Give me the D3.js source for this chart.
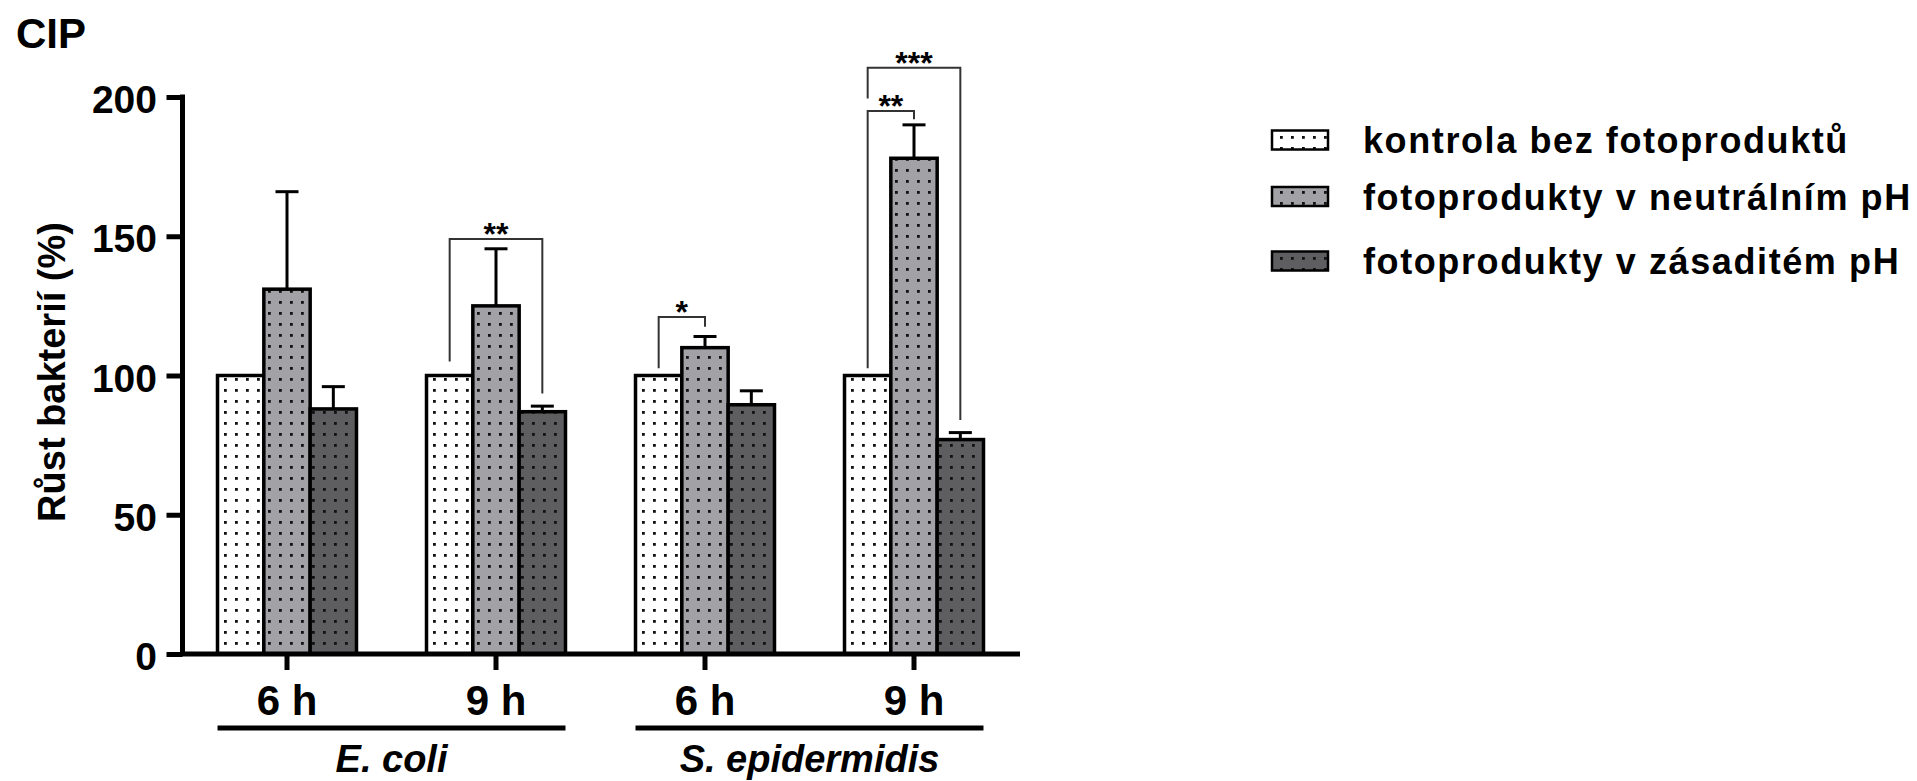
<!DOCTYPE html>
<html>
<head>
<meta charset="utf-8">
<script src="https://cdn.jsdelivr.net/npm/d3@7/dist/d3.min.js"></script>
<style>
  html, body { margin: 0; padding: 0; background: #fff; }
  svg { display: block; }
  text { font-family: "Liberation Sans", Arial, Helvetica, sans-serif; fill: #000; }
</style>
</head>
<body>
<svg id="chart" width="1917" height="781"></svg>
<script>
// ---------------- DATA ----------------
const organisms = ["E. coli", "S. epidermidis"];
const times = ["6 h", "9 h"];
const categories = ["E. coli|6 h", "E. coli|9 h", "S. epidermidis|6 h", "S. epidermidis|9 h"];
const seriesNames = ["kontrola bez fotoproduktů", "fotoprodukty v neutrálním pH", "fotoprodukty v zásaditém pH"];
const controlValues  = [100, 100, 100, 100];
const neutralValues  = [131, 125, 110, 178];
const alkalineValues = [88, 87, 89.5, 77];
const controlErr  = [0, 0, 0, 0];
const neutralErr  = [35, 20.5, 4, 12];
const alkalineErr = [8, 2, 5, 2.5];
const yTicks = [0, 50, 100, 150, 200];
// significance brackets: category, from series, to series, bracket level, leg ends, label
const brackets = [
  { cat: "E. coli|9 h",        from: 0, to: 2, level: 149,   leftEnd: 105,   rightEnd: 93.5, label: "**" },
  { cat: "S. epidermidis|6 h", from: 0, to: 1, level: 121,   leftEnd: 102.6, rightEnd: 117.5, label: "*" },
  { cat: "S. epidermidis|9 h", from: 0, to: 1, level: 195,   leftEnd: 102.6, rightEnd: 192, label: "**" },
  { cat: "S. epidermidis|9 h", from: 0, to: 2, level: 210.5, leftEnd: 199.5, rightEnd: 84, label: "***" }
];

// ---------------- STYLE ----------------
const fills = ["#ffffff", "#a2a2a6", "#5e5e60"];
const font = '"Liberation Sans", Arial, Helvetica, sans-serif';

const svg = d3.select("#chart");
const defs = svg.append("defs");
fills.forEach((c, i) => {
  const p = defs.append("pattern")
    .attr("id", "pat" + i)
    .attr("patternUnits", "userSpaceOnUse")
    .attr("width", 11).attr("height", 11);
  p.append("rect").attr("width", 11).attr("height", 11).attr("fill", c);
  p.append("rect").attr("x", 4).attr("y", 4).attr("width", 2.8).attr("height", 2.8).attr("fill", "#111");
});

const values = [controlValues, neutralValues, alkalineValues];
const errs = [controlErr, neutralErr, alkalineErr];

const y = d3.scaleLinear().domain([0, 200]).range([654, 97]);
const x0 = d3.scaleBand().domain(categories).range([182.5, 1018.5])
  .paddingInner(0.335).paddingOuter(0.1675);
const x1 = d3.scaleBand().domain(d3.range(seriesNames.length)).range([0, x0.bandwidth()]).padding(0);

const g = svg.append("g");

// bars
const barData = [];
categories.forEach((c, ci) => {
  values.forEach((vals, si) => {
    barData.push({ cat: c, s: si, v: vals[ci], e: errs[si][ci] });
  });
});

g.selectAll("rect.bar").data(barData).enter().append("rect")
  .attr("class", "bar")
  .attr("x", d => x0(d.cat) + x1(d.s))
  .attr("width", x1.bandwidth())
  .attr("y", d => y(d.v))
  .attr("height", d => y(0) - y(d.v))
  .attr("fill", d => `url(#pat${d.s})`)
  .attr("stroke", "#000")
  .attr("stroke-width", 3.5);

// error bars (upper only)
const eb = barData.filter(d => d.e > 0);
g.selectAll("line.err").data(eb).enter().append("line")
  .attr("x1", d => x0(d.cat) + x1(d.s) + x1.bandwidth() / 2)
  .attr("x2", d => x0(d.cat) + x1(d.s) + x1.bandwidth() / 2)
  .attr("y1", d => y(d.v))
  .attr("y2", d => y(d.v + d.e))
  .attr("stroke", "#000").attr("stroke-width", 3);
g.selectAll("line.cap").data(eb).enter().append("line")
  .attr("x1", d => x0(d.cat) + x1(d.s) + x1.bandwidth() / 2 - 11.5)
  .attr("x2", d => x0(d.cat) + x1(d.s) + x1.bandwidth() / 2 + 11.5)
  .attr("y1", d => y(d.v + d.e))
  .attr("y2", d => y(d.v + d.e))
  .attr("stroke", "#000").attr("stroke-width", 3);

// significance brackets
const cx = (cat, s) => x0(cat) + x1(s) + x1.bandwidth() / 2;
const bg = g.append("g");
brackets.forEach(b => {
  const xl = cx(b.cat, b.from), xr = cx(b.cat, b.to);
  bg.append("path")
    .attr("d", `M${xl},${y(b.leftEnd)}V${y(b.level)}H${xr}V${y(b.rightEnd)}`)
    .attr("fill", "none").attr("stroke", "#333").attr("stroke-width", 2);
  bg.append("text")
    .attr("x", (xl + xr) / 2)
    .attr("y", y(b.level) + 6)
    .attr("text-anchor", "middle")
    .style("font-size", "32px").style("font-weight", "bold")
    .text(b.label);
});

// y axis
const yAxis = d3.axisLeft(y).tickValues(yTicks).tickSize(16).tickSizeOuter(0).tickPadding(9.5);
const ya = svg.append("g").attr("transform", "translate(182.5,0)").call(yAxis);
ya.select(".domain").remove();
ya.selectAll(".tick line").attr("stroke", "#000").attr("stroke-width", 5);
ya.selectAll(".tick text")
  .attr("dy", "0.4em")
  .style("font-family", font).style("font-size", "39px").style("font-weight", "bold").attr("fill", "#000");
svg.append("line").attr("x1", 182.5).attr("x2", 182.5).attr("y1", y(200) - 2.5).attr("y2", y(0))
  .attr("stroke", "#000").attr("stroke-width", 5);

// x axis
const xAxis = d3.axisBottom(x0).tickSize(16).tickSizeOuter(0).tickPadding(15)
  .tickFormat(d => d.split("|")[1]);
const xa = svg.append("g").attr("transform", `translate(0,${y(0)})`).call(xAxis);
xa.select(".domain").remove();
xa.selectAll(".tick line").attr("stroke", "#000").attr("stroke-width", 5);
xa.selectAll(".tick text")
  .style("font-family", font).style("font-size", "42px").style("font-weight", "bold").attr("fill", "#000");
svg.append("line").attr("x1", 180).attr("x2", 1020).attr("y1", y(0)).attr("y2", y(0))
  .attr("stroke", "#000").attr("stroke-width", 5);

// organism grouping lines and labels
organisms.forEach(org => {
  const cats = categories.filter(c => c.startsWith(org + "|"));
  const xs = x0(cats[0]);
  const xe = x0(cats[cats.length - 1]) + x0.bandwidth();
  svg.append("line").attr("x1", xs).attr("x2", xe).attr("y1", 728).attr("y2", 728)
    .attr("stroke", "#000").attr("stroke-width", 5);
  svg.append("text").attr("x", (xs + xe) / 2).attr("y", 772)
    .attr("text-anchor", "middle")
    .style("font-size", "38px").style("font-weight", "bold").style("font-style", "italic")
    .text(org);
});

// y axis title
svg.append("text")
  .attr("transform", "translate(65,372) rotate(-90)")
  .attr("text-anchor", "middle")
  .style("font-size", "38px").style("font-weight", "bold")
  .text("Růst bakterií (%)");

// chart title
svg.append("text").attr("x", 16).attr("y", 48)
  .style("font-size", "42px").style("font-weight", "bold")
  .text("CIP");

// legend
const legendY = [140, 196.5, 261];
const lg = svg.append("g");
seriesNames.forEach((name, i) => {
  lg.append("rect")
    .attr("x", 1272).attr("y", legendY[i] - 9.5)
    .attr("width", 56).attr("height", 19)
    .attr("fill", `url(#pat${i})`)
    .attr("stroke", "#000").attr("stroke-width", 2.5);
  lg.append("text")
    .attr("x", 1363).attr("y", legendY[i] + 13)
    .style("font-size", "36px").style("font-weight", "bold")
    .style("letter-spacing", "1.6px")
    .text(name);
});
</script>
</body>
</html>
